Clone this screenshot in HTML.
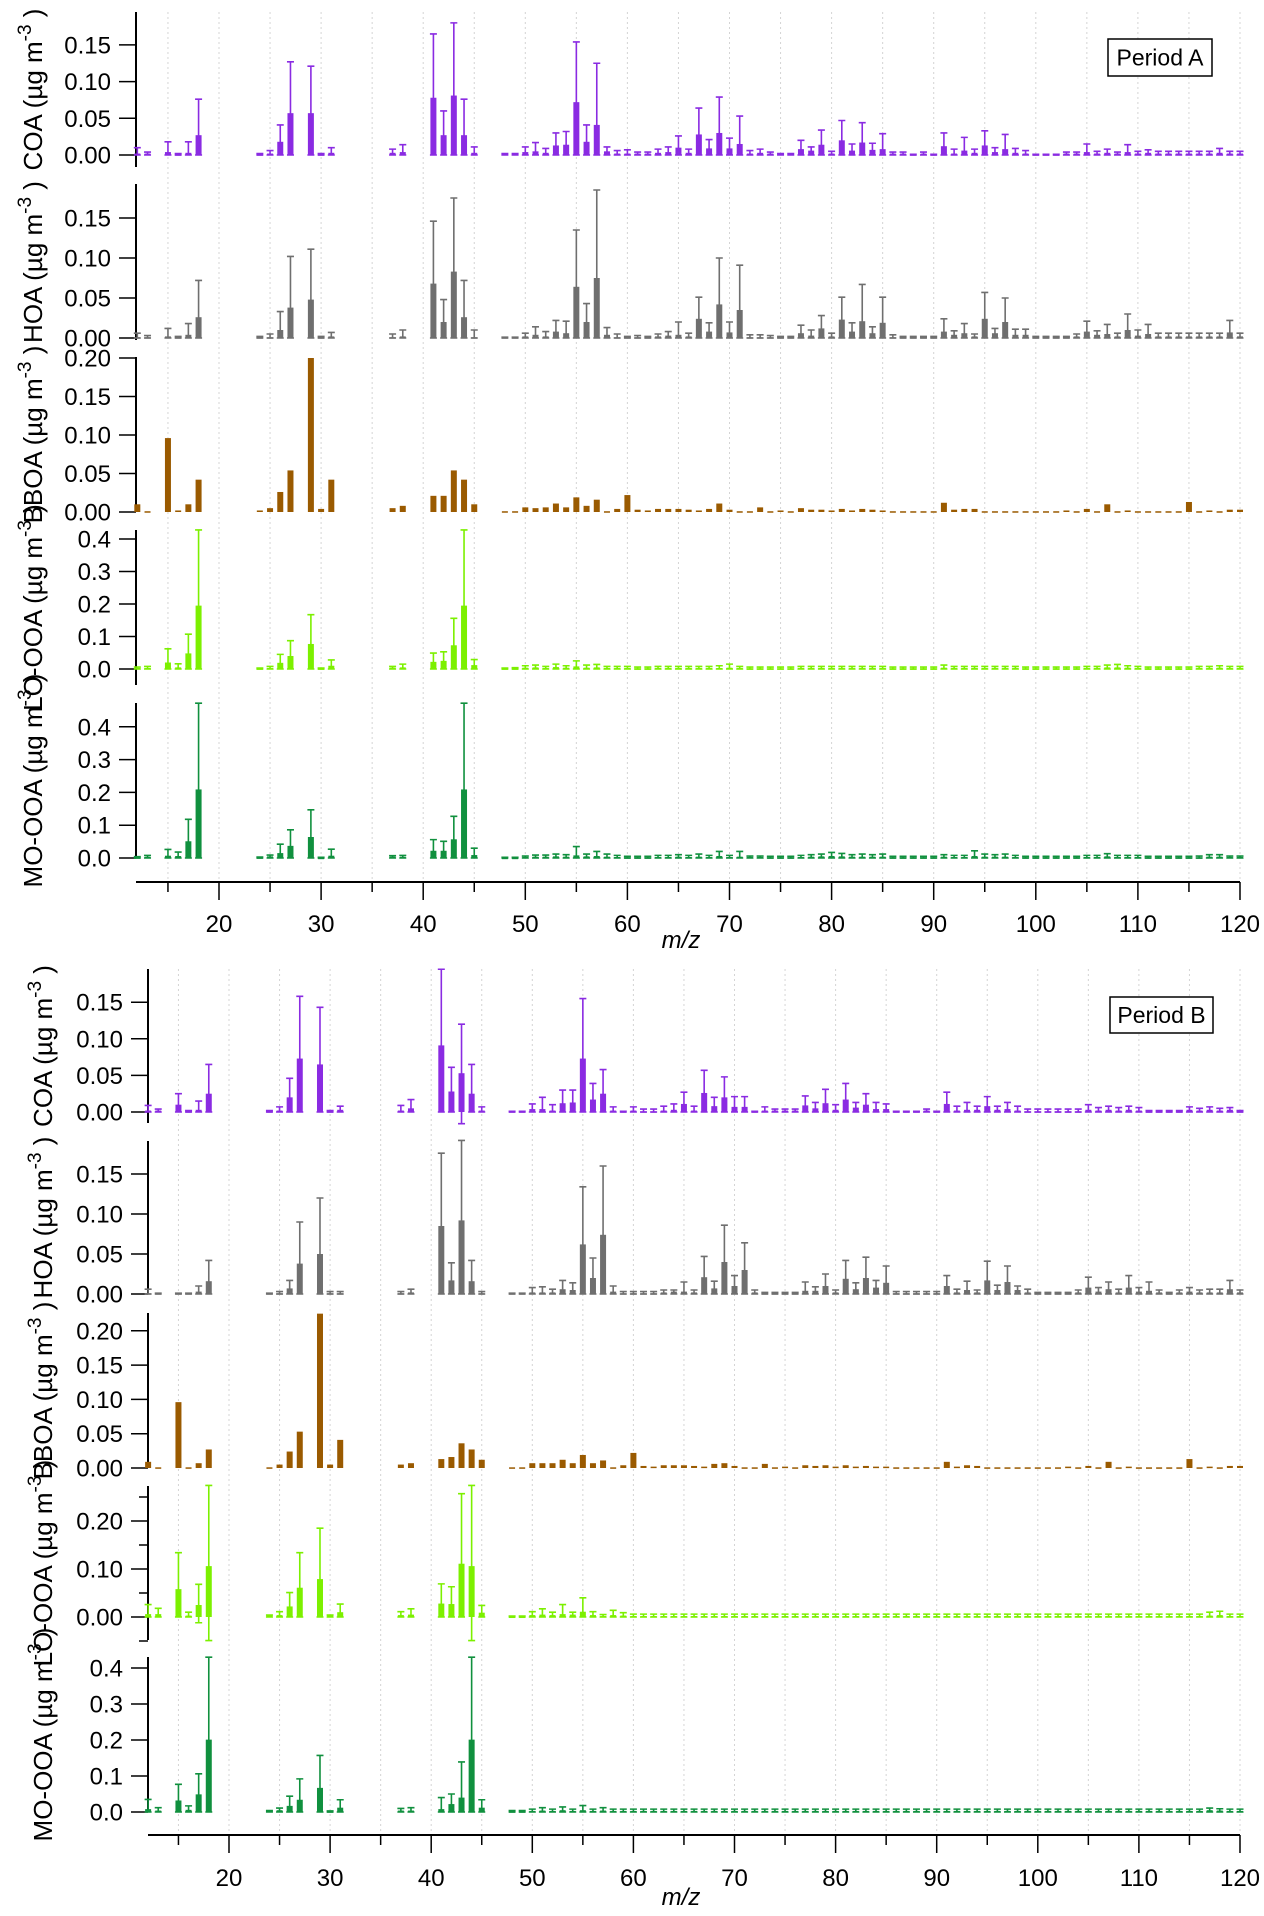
<!DOCTYPE html>
<html><head><meta charset="utf-8"><style>
html,body{margin:0;padding:0;background:#fff}
svg{display:block;font-family:"Liberation Sans",Arial,sans-serif}
</style></head><body>
<svg id="chart" width="1264" height="1916" viewBox="0 0 1264 1916" xmlns="http://www.w3.org/2000/svg"></svg>
<script>
const mzLeft=[12,13,15,16,17,18,24,25,26,27,29,30,31,37,38,41,42,43,44,45];
const mzRight=[48,49,50,51,52,53,54,55,56,57,58,59,60,61,62,63,64,65,66,67,68,69,70,71,72,73,74,75,76,77,78,79,80,81,82,83,84,85,86,87,88,89,90,91,92,93,94,95,96,97,98,99,100,101,102,103,104,105,106,107,108,109,110,111,112,113,114,115,116,117,118,119,120];
const xTicks=[20,30,40,50,60,70,80,90,100,110,120];

// Period A
const coaA_L=[.002,.002,.004,.001,.003,.027,.001,.002,.018,.057,.057,.001,.003,.003,.004,.078,.027,.081,.027,.003];
const coaA_Le=[.010,.004,.018,.002,.018,.076,.002,.006,.041,.127,.121,.002,.010,.008,.014,.165,.060,.180,.076,.011];
const coaA_R=[.002,.002,.004,.005,.003,.013,.014,.072,.018,.041,.005,.002,.002,.002,.002,.003,.004,.010,.003,.028,.009,.030,.009,.015,.002,.003,.002,.002,.002,.008,.006,.014,.002,.020,.006,.017,.007,.008,.002,.002,.001,.002,.001,.012,.002,.006,.003,.013,.004,.008,.003,.002,.001,.001,.001,.002,.002,.004,.002,.003,.002,.004,.002,.003,.002,.002,.002,.002,.002,.002,.003,.002,.002];
const coaA_Re=[.002,.002,.011,.017,.009,.030,.032,.154,.041,.125,.011,.006,.007,.004,.004,.008,.011,.026,.008,.064,.021,.079,.023,.053,.006,.008,.004,.002,.002,.020,.011,.034,.005,.047,.015,.044,.016,.029,.004,.004,.001,.004,.001,.030,.008,.024,.008,.033,.010,.028,.009,.006,.001,.001,.001,.004,.004,.015,.005,.008,.004,.014,.005,.007,.005,.005,.005,.005,.005,.005,.009,.005,.005];
const hoaA_L=[.001,.001,.002,.001,.004,.026,.001,.001,.010,.038,.048,.001,.002,.001,.002,.068,.020,.083,.026,.001];
const hoaA_Le=[.006,.003,.012,.002,.018,.072,.002,.005,.033,.102,.111,.002,.007,.005,.010,.146,.048,.175,.072,.010];
const hoaA_R=[.001,.001,.002,.004,.002,.008,.006,.064,.020,.075,.004,.001,.001,.001,.001,.002,.003,.004,.002,.024,.008,.042,.007,.035,.001,.001,.001,.001,.001,.006,.003,.012,.002,.023,.008,.021,.006,.019,.001,.001,.001,.001,.001,.008,.004,.006,.002,.024,.006,.020,.004,.004,.001,.001,.001,.001,.002,.008,.004,.005,.002,.010,.003,.005,.002,.002,.002,.002,.002,.002,.002,.007,.002];
const hoaA_Re=[.001,.001,.006,.014,.008,.022,.021,.135,.043,.185,.013,.005,.002,.003,.002,.005,.008,.020,.006,.051,.019,.100,.020,.091,.004,.004,.003,.002,.002,.016,.010,.028,.006,.051,.019,.067,.014,.051,.004,.002,.002,.002,.002,.024,.009,.018,.005,.057,.012,.050,.011,.011,.002,.002,.002,.002,.005,.021,.009,.017,.006,.030,.010,.017,.006,.006,.006,.006,.006,.006,.006,.022,.006];
const bboaA_L=[.010,.001,.096,.002,.010,.042,.002,.005,.026,.054,.200,.004,.042,.005,.008,.021,.021,.054,.042,.010];
const bboaA_R=[.001,.001,.006,.005,.006,.011,.006,.019,.008,.016,.001,.004,.022,.003,.002,.004,.004,.004,.003,.002,.004,.011,.003,.001,.001,.006,.001,.002,.001,.005,.003,.003,.002,.004,.002,.004,.003,.002,.001,.001,.001,.001,.001,.012,.003,.004,.004,.001,.001,.001,.001,.001,.001,.001,.001,.002,.001,.004,.001,.010,.001,.002,.001,.001,.001,.001,.001,.013,.001,.002,.001,.003,.003];
const looaA_L=[.003,.003,.020,.005,.048,.195,.002,.003,.019,.040,.077,.002,.010,.004,.005,.022,.025,.073,.195,.012];
const looaA_Le=[.006,.008,.062,.016,.107,.428,.003,.008,.045,.087,.167,.003,.028,.008,.015,.049,.053,.156,.428,.029];
const looaA_R=[.002,.002,.004,.005,.003,.006,.004,.008,.004,.005,.003,.003,.003,.002,.002,.003,.003,.003,.003,.003,.003,.003,.004,.003,.002,.002,.002,.002,.002,.003,.003,.003,.003,.003,.003,.003,.003,.003,.002,.002,.002,.002,.002,.004,.003,.003,.003,.003,.003,.003,.003,.002,.002,.002,.002,.002,.002,.003,.003,.005,.005,.004,.003,.002,.002,.002,.002,.002,.003,.003,.004,.003,.003];
const looaA_Re=[.003,.004,.010,.012,.008,.015,.010,.025,.012,.014,.008,.008,.008,.006,.006,.008,.008,.008,.008,.008,.008,.010,.015,.008,.006,.006,.006,.006,.006,.008,.008,.008,.008,.008,.008,.008,.008,.008,.006,.006,.006,.006,.006,.012,.008,.008,.008,.008,.008,.008,.008,.006,.006,.006,.006,.006,.006,.008,.008,.012,.014,.010,.008,.006,.006,.006,.006,.006,.008,.008,.010,.008,.008];
const mooaA_L=[.002,.004,.007,.006,.051,.209,.002,.005,.015,.037,.064,.001,.007,.004,.004,.022,.022,.057,.209,.009];
const mooaA_Le=[.004,.008,.026,.018,.118,.472,.003,.009,.042,.086,.147,.002,.027,.007,.008,.056,.051,.127,.472,.030];
const mooaA_R=[.001,.001,.003,.004,.004,.005,.004,.008,.005,.006,.004,.003,.002,.002,.002,.003,.003,.004,.003,.004,.003,.006,.003,.004,.003,.003,.002,.002,.002,.003,.004,.005,.006,.005,.004,.004,.004,.004,.002,.002,.002,.002,.002,.004,.003,.003,.006,.004,.004,.004,.003,.002,.002,.002,.002,.002,.002,.003,.003,.005,.003,.003,.003,.002,.002,.002,.002,.002,.002,.004,.004,.003,.003];
const mooaA_Re=[.002,.002,.006,.009,.009,.012,.010,.035,.012,.020,.012,.008,.005,.005,.005,.008,.008,.010,.008,.012,.008,.020,.008,.020,.006,.006,.005,.005,.005,.008,.010,.012,.017,.014,.010,.012,.010,.012,.005,.005,.005,.005,.005,.010,.008,.008,.022,.012,.010,.012,.008,.005,.005,.005,.005,.005,.005,.008,.008,.013,.008,.008,.008,.005,.005,.005,.005,.005,.006,.010,.010,.006,.006];

// Period B
const coaB_L=[.002,.002,.010,.001,.003,.025,.001,.002,.020,.073,.065,.001,.003,.002,.005,.091,.028,.053,.025,.002];
const coaB_Le=[.009,.004,.025,.002,.015,.065,.002,.007,.046,.158,.143,.002,.008,.009,.017,.195,.061,.120,.065,.007];
const coaB_Llow=[0,0,0,0,0,0,0,0,0,0,0,0,0,0,0,0,0,-.016,0,0];
const coaB_R=[.001,.001,.004,.004,.002,.012,.013,.073,.017,.025,.002,.001,.002,.001,.001,.002,.003,.011,.002,.026,.008,.020,.007,.007,.001,.002,.002,.002,.002,.009,.005,.012,.003,.017,.006,.010,.004,.004,.001,.001,.001,.002,.001,.011,.002,.003,.003,.008,.003,.004,.002,.001,.001,.001,.001,.001,.001,.003,.002,.003,.002,.003,.002,.001,.001,.001,.001,.003,.002,.003,.002,.003,.001];
const coaB_Re=[.001,.001,.011,.020,.010,.030,.030,.155,.039,.058,.007,.001,.007,.004,.004,.008,.011,.027,.008,.057,.020,.048,.021,.021,.001,.007,.004,.004,.004,.022,.013,.031,.010,.039,.013,.025,.013,.011,.001,.001,.001,.004,.001,.027,.008,.013,.008,.021,.008,.013,.008,.004,.004,.004,.004,.004,.004,.010,.006,.008,.006,.008,.006,.002,.002,.002,.002,.007,.005,.007,.005,.006,.002];
const hoaB_L=[.001,.001,.001,.001,.003,.016,.001,.001,.007,.038,.050,.001,.001,.001,.002,.085,.017,.092,.016,.001];
const hoaB_Le=[.006,.001,.001,.001,.010,.042,.001,.003,.017,.090,.120,.003,.003,.003,.006,.176,.039,.192,.042,.003];
const hoaB_R=[.001,.001,.002,.002,.002,.006,.005,.062,.020,.074,.003,.001,.001,.001,.001,.002,.003,.003,.002,.021,.007,.040,.010,.030,.002,.001,.001,.001,.001,.004,.004,.010,.002,.019,.006,.020,.008,.014,.001,.001,.001,.001,.001,.010,.002,.005,.002,.017,.005,.015,.005,.002,.001,.001,.001,.001,.002,.008,.003,.006,.002,.008,.003,.004,.002,.001,.002,.003,.002,.002,.002,.006,.002];
const hoaB_Re=[.001,.001,.008,.009,.006,.017,.014,.134,.045,.160,.010,.003,.003,.003,.003,.005,.005,.015,.005,.047,.016,.086,.023,.064,.005,.002,.002,.002,.002,.015,.009,.025,.005,.042,.014,.046,.017,.035,.003,.003,.003,.003,.003,.023,.006,.016,.005,.041,.011,.035,.010,.006,.002,.002,.002,.002,.005,.021,.008,.015,.006,.023,.008,.015,.005,.002,.005,.008,.005,.006,.006,.017,.005];
const bboaB_L=[.009,.001,.096,.001,.007,.027,.001,.005,.024,.053,.225,.005,.041,.005,.007,.013,.016,.036,.027,.012];
const bboaB_R=[.001,.001,.007,.007,.007,.012,.007,.019,.007,.011,.001,.004,.022,.003,.002,.004,.004,.004,.003,.002,.006,.007,.003,.001,.001,.006,.001,.002,.001,.004,.003,.004,.002,.004,.002,.003,.002,.002,.001,.001,.001,.001,.001,.009,.002,.004,.003,.001,.001,.001,.001,.001,.001,.001,.001,.002,.001,.003,.001,.009,.001,.002,.001,.001,.001,.001,.001,.013,.001,.002,.001,.003,.003];
const looaB_L=[.006,.006,.058,.003,.025,.106,.003,.004,.022,.061,.079,.003,.010,.004,.005,.028,.027,.111,.106,.009];
const looaB_Le=[.026,.018,.134,.010,.068,.274,.004,.011,.051,.134,.185,.004,.027,.011,.017,.069,.063,.257,.274,.024];
const looaB_Llow=[0,0,0,0,-.012,-.049,0,0,0,0,0,0,0,0,0,0,0,0,-.049,0];
const looaB_R=[.001,.001,.004,.005,.004,.006,.005,.011,.004,.002,.004,.003,.002,.002,.002,.002,.002,.002,.002,.002,.002,.002,.002,.002,.002,.002,.002,.002,.002,.002,.002,.002,.002,.002,.002,.002,.002,.002,.002,.002,.002,.002,.002,.002,.002,.002,.002,.002,.002,.002,.002,.002,.002,.002,.002,.002,.002,.002,.002,.002,.002,.002,.002,.002,.002,.002,.002,.002,.002,.003,.004,.002,.002];
const looaB_Re=[.002,.002,.011,.017,.010,.026,.010,.040,.011,.005,.014,.009,.006,.006,.006,.006,.006,.006,.006,.006,.006,.006,.006,.006,.006,.006,.006,.006,.006,.006,.006,.006,.006,.006,.006,.006,.006,.006,.006,.006,.006,.006,.006,.006,.006,.006,.006,.006,.006,.006,.006,.006,.006,.006,.006,.006,.006,.006,.006,.006,.006,.006,.006,.006,.006,.006,.006,.006,.006,.010,.012,.006,.006];
const mooaB_L=[.008,.004,.032,.006,.049,.201,.003,.005,.017,.034,.067,.002,.012,.004,.004,.008,.022,.040,.201,.012];
const mooaB_Le=[.035,.012,.077,.017,.106,.430,.004,.011,.044,.092,.157,.003,.034,.010,.012,.040,.050,.139,.430,.034];
const mooaB_R=[.002,.002,.003,.004,.003,.005,.003,.005,.003,.004,.003,.003,.003,.003,.003,.003,.003,.003,.003,.003,.003,.003,.003,.003,.003,.003,.003,.003,.003,.003,.003,.003,.003,.003,.003,.003,.003,.003,.003,.003,.003,.003,.003,.003,.003,.003,.003,.003,.003,.003,.003,.003,.003,.003,.003,.003,.003,.003,.003,.003,.003,.003,.003,.003,.003,.003,.003,.003,.003,.005,.004,.003,.003];
const mooaB_Re=[.004,.004,.008,.012,.008,.014,.008,.018,.008,.012,.008,.008,.008,.008,.008,.008,.008,.008,.008,.008,.008,.008,.008,.008,.008,.008,.008,.008,.008,.008,.008,.008,.008,.008,.008,.008,.008,.008,.008,.008,.008,.008,.008,.008,.008,.008,.008,.008,.008,.008,.008,.008,.008,.008,.008,.008,.008,.008,.008,.008,.008,.008,.008,.008,.008,.008,.008,.008,.008,.011,.009,.008,.008];

const NS='http://www.w3.org/2000/svg';
const svg=document.getElementById('chart');
function mk(tag,attrs,parent){const e=document.createElementNS(NS,tag);for(const k in attrs)e.setAttribute(k,attrs[k]);(parent||svg).appendChild(e);return e;}

const COL={coa:'#8a2be2',hoa:'#6f6f6f',bboa:'#9a5a00',looa:'#7cf000',mooa:'#10903e'};

const periods=[
 {id:'a',label:'Period A',x0:219,pxu:10.21,axL:136,axR:1240,gridTop:12,axY:882,tickLblY:932,mzY:948,box:[1108,39,104,37],
  panels:[
   {k:'coa',name:'COA',zero:155,ppu:734,top:12,end:167,ticks:[0,.05,.10,.15],dec:2,v:coaA_L.concat(coaA_R),e:coaA_Le.concat(coaA_Re)},
   {k:'hoa',name:'HOA',zero:338,ppu:800,top:184,end:340,ticks:[0,.05,.10,.15],dec:2,v:hoaA_L.concat(hoaA_R),e:hoaA_Le.concat(hoaA_Re)},
   {k:'bboa',name:'BBOA ',zero:512,ppu:770,top:357,end:512,ticks:[0,.05,.10,.15,.20],dec:2,v:bboaA_L.concat(bboaA_R),e:null},
   {k:'looa',name:'LO-OOA',zero:669,ppu:325,top:530,end:685,ticks:[0,.1,.2,.3,.4],dec:1,v:looaA_L.concat(looaA_R),e:looaA_Le.concat(looaA_Re)},
   {k:'mooa',name:'MO-OOA',zero:858,ppu:328,top:703,end:858,ticks:[0,.1,.2,.3,.4],dec:1,v:mooaA_L.concat(mooaA_R),e:mooaA_Le.concat(mooaA_Re)}
  ]},
 {id:'b',label:'Period B',x0:229,pxu:10.11,axL:148,axR:1240,gridTop:969,axY:1835,tickLblY:1886,mzY:1905,box:[1110,997,103,36],
  panels:[
   {k:'coa',name:'COA',zero:1112,ppu:732,top:969,end:1123,ticks:[0,.05,.10,.15],dec:2,v:coaB_L.concat(coaB_R),e:coaB_Le.concat(coaB_Re),low:coaB_Llow},
   {k:'hoa',name:'HOA',zero:1294,ppu:800,top:1141,end:1294,ticks:[0,.05,.10,.15],dec:2,v:hoaB_L.concat(hoaB_R),e:hoaB_Le.concat(hoaB_Re)},
   {k:'bboa',name:'BBOA ',zero:1468,ppu:686,top:1313,end:1468,ticks:[0,.05,.10,.15,.20],dec:2,v:bboaB_L.concat(bboaB_R),e:null},
   {k:'looa',name:'LO-OOA',zero:1617,ppu:480,top:1486,end:1640,ticks:[0,.10,.20],minor:[-.05,.05,.15,.25],dec:2,v:looaB_L.concat(looaB_R),e:looaB_Le.concat(looaB_Re),low:looaB_Llow},
   {k:'mooa',name:'MO-OOA',zero:1812,ppu:360,top:1657,end:1812,ticks:[0,.1,.2,.3,.4],dec:1,v:mooaB_L.concat(mooaB_R),e:mooaB_Le.concat(mooaB_Re)}
  ]}
];
const allMz=mzLeft.concat(mzRight);

periods.forEach(p=>{
  const xs=m=>p.x0+(m-20)*p.pxu;
  const g=mk('g',{});
  
  
  for(let m=15;m<=120;m+=5){
    const l=mk('line',{x1:xs(m),x2:xs(m),y1:p.gridTop,y2:p.axY-2,stroke:'#d4d4d4','stroke-width':1,'stroke-dasharray':'2,3'},g);
    
    
  }
  p.panels.forEach(pn=>{
    const pg=mk('g',{},g);
    
    
    const ys=v=>pn.zero-v*pn.ppu;
    const ax=mk('line',{x1:p.axL,x2:p.axL,y1:pn.top,y2:pn.end,stroke:'#000','stroke-width':2},pg);
    
    
    pn.ticks.forEach(t=>{
      const y=ys(t);
      const tl=mk('line',{x1:p.axL-17,x2:p.axL,y1:y,y2:y,stroke:'#000','stroke-width':1.5},pg);
      
      
      const tx=mk('text',{x:p.axL-25,y:y+8.5,'text-anchor':'end','font-size':24,fill:'#000'},pg);
      
      
      tx.textContent=t.toFixed(pn.dec);
    });
    (pn.minor||[]).forEach(t=>{
      const y=ys(t);
      const tl=mk('line',{x1:p.axL-9,x2:p.axL,y1:y,y2:y,stroke:'#000','stroke-width':1.5},pg);
      
      
    });
    const cx=p.id==='a'?42:52, cy=(pn.top+pn.end)/2;
    const tt=mk('text',{x:cx,y:cy,transform:`rotate(-90 ${cx} ${cy})`,'text-anchor':'middle','font-size':26,fill:'#000'},pg);
    
    
    tt.appendChild(document.createTextNode(pn.name+' (\u00b5g m'));
    const sup=mk('tspan',{dy:-11,'font-size':19},tt);
    sup.textContent='-3';
    const cl=mk('tspan',{dy:11,'font-size':26},tt);
    cl.textContent=' )';
    allMz.forEach((m,i)=>{
      const x=xs(m), v=pn.v[i];
      const y0=ys(0), y1=ys(v);
      const b=mk('rect',{x:x-3,y:Math.min(y0,y1),width:6,height:Math.max(1.5,Math.abs(y0-y1)),fill:COL[pn.k]},pg);
      
      
      if(pn.e){
        const lowV=(pn.low&&i<pn.low.length)?pn.low[i]:0;
        const yt=ys(pn.e[i]), yb=ys(lowV);
        const eb=mk('path',{d:`M${x},${yt}V${yb}M${x-3.5},${yt}H${x+3.5}M${x-3.5},${yb}H${x+3.5}`,stroke:COL[pn.k],'stroke-width':1.6,fill:'none'},pg);
        
        
      }
    });
  });
  const xa=mk('line',{x1:p.axL,x2:p.axR,y1:p.axY,y2:p.axY,stroke:'#000','stroke-width':2},g);
  
  
  for(let m=15;m<=120;m+=10){
    const tl=mk('line',{x1:xs(m),x2:xs(m),y1:p.axY,y2:p.axY+10,stroke:'#000','stroke-width':1.5},g);
    
    
  }
  xTicks.forEach(m=>{
    const tl=mk('line',{x1:xs(m),x2:xs(m),y1:p.axY,y2:p.axY+18,stroke:'#000','stroke-width':1.5},g);
    
    
    const tx=mk('text',{x:xs(m),y:p.tickLblY,'text-anchor':'middle','font-size':24,fill:'#000'},g);
    
    
    tx.textContent=m;
  });
  const mz=mk('text',{x:681,y:p.mzY,'text-anchor':'middle','font-size':24,'font-style':'italic',fill:'#000'},g);
  
  
  mz.textContent='m/z';
  const bx=mk('rect',{x:p.box[0],y:p.box[1],width:p.box[2],height:p.box[3],fill:'#fff',stroke:'#000','stroke-width':1.5},g);
  
  
  const bt=mk('text',{x:p.box[0]+p.box[2]/2,y:p.box[1]+p.box[3]/2+8,'text-anchor':'middle','font-size':23,fill:'#000'},g);
  
  
  bt.textContent=p.label;
});
</script>
</body></html>
